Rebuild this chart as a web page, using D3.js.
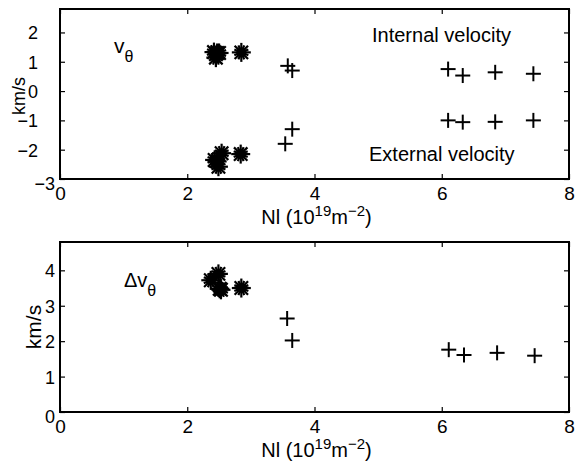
<!DOCTYPE html>
<html>
<head>
<meta charset="utf-8">
<script src="https://d3js.org/d3.v7.min.js"></script>
<style>
  body { margin: 0; background: #fff; }
  text { font-family: "Liberation Sans", Arial, Helvetica, sans-serif; fill: #000; }
</style>
</head>
<body>
<div id="chart"></div>
<script>
// Nl in 10^19 m^-2, velocities in km/s
var xTicks = [0, 2, 4, 6, 8];
var yTicksTop = [-3, -2, -1, 0, 1, 2];
var yTicksBottom = [0, 1, 2, 3, 4];

// top panel: internal / external velocity
var starsInternal = [[2.42, 1.33], [2.47, 1.30], [2.45, 1.14], [2.50, 1.30], [2.85, 1.32]];
var starsExternal = [[2.43, -2.35], [2.54, -2.12], [2.49, -2.58], [2.47, -2.40], [2.84, -2.15]];
var plusInternal = [[3.58, 0.86], [3.65, 0.70], [6.10, 0.75], [6.33, 0.53], [6.84, 0.64], [7.44, 0.59]];
var plusExternal = [[3.65, -1.30], [3.54, -1.80], [6.10, -1.00], [6.33, -1.06], [6.84, -1.05], [7.44, -1.00]];

// bottom panel: velocity difference
var starsDelta = [[2.37, 3.72], [2.49, 3.90], [2.51, 3.48], [2.53, 3.45], [2.85, 3.50]];
var plusDelta = [[3.57, 2.64], [3.65, 2.02], [6.11, 1.76], [6.35, 1.61], [6.87, 1.67], [7.46, 1.59]];

var width = 588, height = 466;
var svg = d3.select("#chart").append("svg")
    .attr("width", width)
    .attr("height", height);

var x = d3.scaleLinear().domain([0, 8]).range([60, 569]);

function panel(yDomain, yRange, yTicks, labelX, ylab) {
    var y = d3.scaleLinear().domain(yDomain).range(yRange);
    var g = svg.append("g");

    // left axis with labels
    var left = g.append("g")
        .attr("transform", "translate(" + x(0) + ",0)")
        .call(d3.axisLeft(y).tickValues(yTicks).tickSizeInner(-5).tickSizeOuter(0).tickFormat(d3.format("d")));
    // right axis, ticks only
    g.append("g")
        .attr("transform", "translate(" + x(8) + ",0)")
        .call(d3.axisRight(y).tickValues(yTicks).tickSizeInner(-5).tickSizeOuter(0).tickFormat(""));
    // bottom axis with labels
    var bottom = g.append("g")
        .attr("transform", "translate(0," + yRange[0] + ")")
        .call(d3.axisBottom(x).tickValues(xTicks).tickSizeInner(-5).tickSizeOuter(0).tickFormat(d3.format("d")));
    // top axis, ticks only
    g.append("g")
        .attr("transform", "translate(0," + yRange[1] + ")")
        .call(d3.axisTop(x).tickValues(xTicks).tickSizeInner(-5).tickSizeOuter(0).tickFormat(""));

    g.selectAll(".domain").remove();
    g.selectAll(".tick line").attr("stroke", "#000").attr("stroke-width", 1.2);
    g.selectAll(".tick text")
        .style("font-family", "'Liberation Sans', Arial, sans-serif");
    left.selectAll(".tick text")
        .style("font-size", "18px")
        .attr("dy", "0.36em")
        .attr("x", labelX);
    // the lowest y label sits nudged into the corner
    left.selectAll(".tick text")
        .filter(function(d) { return d === yDomain[0]; })
        .attr("x", -5)
        .attr("dy", "0.6em");
    bottom.selectAll(".tick text")
        .style("font-size", "19px")
        .attr("dy", "0.75em")
        .attr("y", 7);

    // box
    g.append("rect")
        .attr("x", x(0))
        .attr("y", yRange[1])
        .attr("width", x(8) - x(0))
        .attr("height", yRange[0] - yRange[1])
        .attr("fill", "none")
        .attr("stroke", "#000")
        .attr("stroke-width", 2);

    // y label
    g.append("text")
        .attr("transform", "translate(" + ylab.x + "," + ylab.y + ") rotate(-90)")
        .attr("text-anchor", "middle")
        .style("font-size", ylab.size + "px")
        .text("km/s");

    // x label
    var xl = g.append("text")
        .attr("x", (x(0) + x(8)) / 2 + 2)
        .attr("y", yRange[0] + 45)
        .attr("text-anchor", "middle")
        .style("font-size", "20px");
    xl.append("tspan").text("Nl (10");
    xl.append("tspan").attr("dy", -8).style("font-size", "15px").text("19");
    xl.append("tspan").attr("dy", 8).text("m");
    xl.append("tspan").attr("dy", -8).style("font-size", "15px").text("\u22122");
    xl.append("tspan").attr("dy", 8).text(")");

    return { g: g, y: y };
}

function drawStars(p, data) {
    var r = 9.5;
    var star = p.g.append("g").selectAll("g")
        .data(data)
        .enter().append("g")
        .attr("transform", function(d) { return "translate(" + x(d[0]) + "," + p.y(d[1]) + ")"; });
    [0, 45, 90, 135, 22.5, 67.5, 112.5, 157.5].forEach(function(a, i) {
        var rad = a * Math.PI / 180, len = i < 4 ? r : r * 0.8;
        star.append("line")
            .attr("x1", -len * Math.cos(rad)).attr("y1", -len * Math.sin(rad))
            .attr("x2", len * Math.cos(rad)).attr("y2", len * Math.sin(rad))
            .attr("stroke", "#000")
            .attr("stroke-width", 2.2);
    });
    star.append("circle").attr("r", 5).attr("fill", "#000");
}

function drawPlus(p, data) {
    var r = 7.5;
    var plus = p.g.append("g").selectAll("g")
        .data(data)
        .enter().append("g")
        .attr("transform", function(d) { return "translate(" + x(d[0]) + "," + p.y(d[1]) + ")"; });
    plus.append("line").attr("x1", -r).attr("x2", r).attr("y1", 0).attr("y2", 0)
        .attr("stroke", "#000").attr("stroke-width", 2);
    plus.append("line").attr("x1", 0).attr("x2", 0).attr("y1", -r).attr("y2", r)
        .attr("stroke", "#000").attr("stroke-width", 2);
}

// top panel
var topPanel = panel([-3, 2.8], [179, 9], yTicksTop, -22, { x: 25, y: 96, size: 18 });
drawStars(topPanel, starsInternal);
drawStars(topPanel, starsExternal);
drawPlus(topPanel, plusInternal);
drawPlus(topPanel, plusExternal);

var vt = topPanel.g.append("text").attr("x", 114).attr("y", 53).style("font-size", "21px");
vt.append("tspan").text("v");
vt.append("tspan").attr("dy", 9).style("font-size", "16px").text("\u03b8");

topPanel.g.append("text").attr("x", 372).attr("y", 42).style("font-size", "20px").text("Internal velocity");
topPanel.g.append("text").attr("x", 369).attr("y", 161).style("font-size", "20px").text("External velocity");

// bottom panel
var botPanel = panel([0, 4.8], [412, 242], yTicksBottom, -5, { x: 41, y: 327, size: 21 });
drawStars(botPanel, starsDelta);
drawPlus(botPanel, plusDelta);

var dv = botPanel.g.append("text").attr("x", 124).attr("y", 287).style("font-size", "20px");
dv.append("tspan").text("\u0394v");
dv.append("tspan").attr("dy", 9).style("font-size", "16px").text("\u03b8");
</script>
</body>
</html>
